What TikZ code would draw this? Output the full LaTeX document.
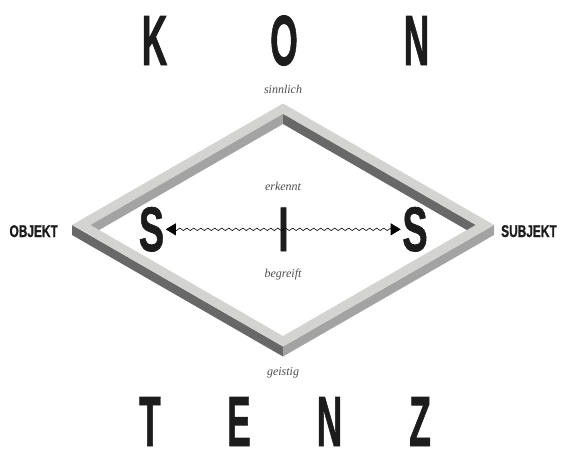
\documentclass[tikz,border=0pt]{standalone}
\usepackage{fontspec}
\usepackage{graphicx}
\usetikzlibrary{arrows.meta,calc,decorations.pathmorphing}
\newfontfamily\headfont{Liberation Sans}[BoldFeatures={FakeBold=1.2}]
\newfontfamily\notefont{Liberation Serif}
\definecolor{frameLight}{HTML}{D3D3CF}
\definecolor{frameMid}{HTML}{A3A3A3}
\definecolor{frameDark}{HTML}{686868}
\definecolor{inkBlack}{HTML}{1C1C1C}
\definecolor{noteGray}{HTML}{4C4C4C}
\newcommand{\narrow}[2]{\scalebox{#1}[1]{#2}}

\begin{document}
\begin{tikzpicture}[x=1pt, y=-1pt, every node/.style={inner sep=0pt}]
  \tikzset{
    headletter/.style={font=\headfont\bfseries\fontsize{71}{71}\selectfont, text=inkBlack, anchor=base},
    midletter/.style={font=\headfont\bfseries\fontsize{63}{63}\selectfont, text=inkBlack, anchor=base},
    pole/.style={font=\headfont\bfseries\fontsize{17}{17}\selectfont, text=inkBlack},
    note/.style={font=\notefont\itshape\fontsize{12}{14}\selectfont, text=noteGray, anchor=base},
    wave/.style={decorate, decoration={snake, amplitude=1.2pt, segment length=7pt, post length=9pt},
      line width=0.6pt, shorten >=1.5pt, -{Triangle[length=10pt, width=12pt]}}
  }
  \useasboundingbox (0,0) rectangle (561,452);

  % frame corners (top face, outer and inner)
  \coordinate (oT) at (283,103.5);
  \coordinate (oR) at (494,225);
  \coordinate (oB) at (283,346.5);
  \coordinate (oL) at (72,225);
  \coordinate (iT) at (283,114);
  \coordinate (iR) at (475.5,225);
  \coordinate (iB) at (283,336);
  \coordinate (iL) at (90.5,225);

  % outer walls
  \fill[frameDark] (oL) -- (oB) -- ++(0,10) -- ($(oL)+(0,10)$) -- cycle;
  \fill[frameMid] (oB) -- (oR) -- ++(0,10) -- ($(oB)+(0,10)$) -- cycle;
  % top face
  \fill[frameLight, even odd rule] (oT) -- (oR) -- (oB) -- (oL) -- cycle
    (iT) -- (iR) -- (iB) -- (iL) -- cycle;
  % inner walls
  \begin{scope}
    \clip (iT) -- (iR) -- (iB) -- (iL) -- cycle;
    \fill[frameMid] (iT) -- (iL) -- ++(0,10) -- ($(iT)+(0,10)$) -- cycle;
    \fill[frameDark] (iT) -- (iR) -- ++(0,10) -- ($(iT)+(0,10)$) -- cycle;
  \end{scope}

  % KON / TENZ
  \node[headletter] (k)  at (154.5,65) {\narrow{0.5}{K}};
  \node[headletter] (o)  at (284,65)   {\narrow{0.5}{O}};
  \node[headletter] (n1) at (416.5,65) {\narrow{0.5}{N}};
  \node[headletter] (t)  at (150,446) {\narrow{0.5}{T}};
  \node[headletter] (e)  at (239,446) {\narrow{0.5}{E}};
  \node[headletter] (n2) at (329.5,446) {\narrow{0.5}{N}};
  \node[headletter] (z)  at (420,446) {\narrow{0.5}{Z}};

  % poles
  \node[pole, anchor=base east] (objekt)  at (58,237)  {\narrow{0.7}{OBJEKT}};
  \node[pole, anchor=base west] (subjekt) at (501,237) {\narrow{0.7}{SUBJEKT}};

  % notes
  \node[note] (sinnlich) at (283,93)    {sinnlich};
  \node[note] (erkennt)  at (283,190)   {erkennt};
  \node[note] (begreift) at (283,277)   {begreift};
  \node[note] (geistig)  at (283,375.5) {geistig};

  % S - I - S
  \node[midletter] (sl)  at (151.5,251) {\narrow{0.6}{S}};
  \node[midletter] (ich) at (283.5,251) {\narrow{0.6}{I}};
  \node[midletter] (sr)  at (415,251)   {\narrow{0.6}{S}};
  \draw[wave] (ich.center) -- (sl.east |- ich.center);
  \draw[wave] (ich.center) -- (sr.west |- ich.center);
\end{tikzpicture}
\end{document}
